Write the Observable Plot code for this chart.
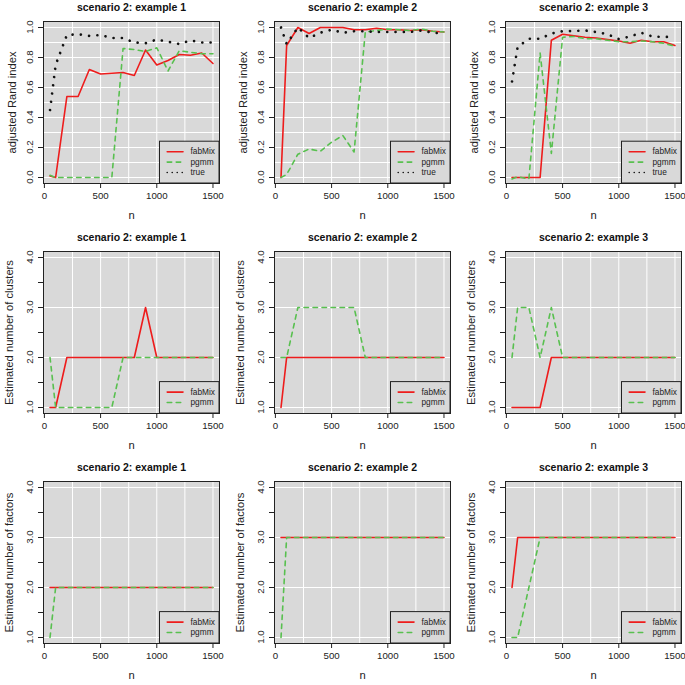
<!DOCTYPE html>
<html><head><meta charset="utf-8">
<script src="https://cdn.jsdelivr.net/npm/d3@7"></script>
<script src="https://cdn.jsdelivr.net/npm/@observablehq/plot@0.6"></script>
<style>
body{margin:0;background:#fff;overflow:hidden;font-family:"Liberation Sans",Arial,Helvetica,sans-serif}
#wrap{position:relative;width:685px;height:685px;overflow:hidden;background:#fff}
.panel{position:absolute;width:231px;height:230px}
.panel svg{max-width:none !important}
</style></head><body><div id="wrap"></div>
<script>
// ---- data ----
const n = [50,100,200,300,400,500,600,700,800,900,1000,1100,1200,1300,1400,1500];

const titles = ["scenario 2: example 1","scenario 2: example 2","scenario 2: example 3"];
const yLabels = ["adjusted Rand index","Estimated number of clusters","Estimated number of factors"];

// adjusted Rand index
const ari1_fabMix = [0.01,0.00,0.54,0.54,0.72,0.69,0.695,0.70,0.68,0.85,0.75,0.78,0.82,0.815,0.83,0.76];
const ari1_pgmm   = [0.015,0.00,0.00,0.00,0.00,0.00,0.00,0.86,0.853,0.84,0.865,0.71,0.845,0.835,0.825,0.825];
const ari1_true   = [0.45,0.75,0.95,0.955,0.944,0.95,0.93,0.93,0.90,0.895,0.92,0.905,0.89,0.914,0.90,0.90];

const ari2_fabMix = [0.00,0.88,1.00,0.96,1.00,1.00,1.00,0.985,0.985,0.995,0.985,0.985,0.98,0.985,0.975,0.97];
const ari2_pgmm   = [0.00,0.02,0.155,0.19,0.175,0.235,0.28,0.17,0.97,0.98,0.99,0.985,0.98,0.99,0.975,0.97];
const ari2_true   = [1.00,0.89,1.00,0.93,0.965,0.985,0.965,0.975,0.975,0.97,0.97,0.97,0.97,0.98,0.965,0.96];

const ari3_fabMix = [0.00,0.00,0.00,0.00,0.915,0.955,0.945,0.935,0.93,0.92,0.91,0.895,0.915,0.905,0.905,0.88];
const ari3_pgmm   = [-0.01,0.005,-0.01,0.83,0.16,0.935,0.94,0.925,0.925,0.915,0.905,0.905,0.91,0.905,0.895,0.875];
const ari3_true   = [0.64,0.87,0.925,0.925,0.96,0.975,0.977,0.98,0.97,0.955,0.923,0.94,0.965,0.94,0.937,0.937];

// estimated number of clusters
const clu1_fabMix = [1,1,2,2,2,2,2,2,2,3,2,2,2,2,2,2];
const clu1_pgmm   = [2,1,1,1,1,1,1,2,2,2,2,2,2,2,2,2];
const clu2_fabMix = [1,2,2,2,2,2,2,2,2,2,2,2,2,2,2,2];
const clu2_pgmm   = [2,2,3,3,3,3,3,3,2,2,2,2,2,2,2,2];
const clu3_fabMix = [1,1,1,1,2,2,2,2,2,2,2,2,2,2,2,2];
const clu3_pgmm   = [2,3,3,2,3,2,2,2,2,2,2,2,2,2,2,2];

// estimated number of factors
const fac1_fabMix = [2,2,2,2,2,2,2,2,2,2,2,2,2,2,2,2];
const fac1_pgmm   = [1,2,2,2,2,2,2,2,2,2,2,2,2,2,2,2];
const fac2_fabMix = [3,3,3,3,3,3,3,3,3,3,3,3,3,3,3,3];
const fac2_pgmm   = [1,3,3,3,3,3,3,3,3,3,3,3,3,3,3,3];
const fac3_fabMix = [2,3,3,3,3,3,3,3,3,3,3,3,3,3,3,3];
const fac3_pgmm   = [1,1,2,3,3,3,3,3,3,3,3,3,3,3,3,3];

// axis settings
const xTicks = [0,500,1000,1500];
const xGrid = [250,500,750,1000,1250,1500];
const ariLim = [0,1];
const ariTicks = [0,0.2,0.4,0.6,0.8,1.0];
const ariTickLabels = ["0.0","0.2","0.4","0.6","0.8","1.0"];
const ariGrid = [0,0.1,0.2,0.3,0.4,0.5,0.6,0.7,0.8,0.9,1.0];
const cntLim = [1,4];
const cntTicks = [1,1.5,2,2.5,3,3.5,4];
const cntLabelAt = [1,2,3,4];
const cntTickLabels = ["1.0","2.0","3.0","4.0"];
const cntGrid = [1,2,3,4];

// ---- styles ----
const seriesStyle = {
  fabMix: {stroke:"#ee1c1c", strokeWidth:1.6, strokeDasharray:null},
  pgmm:   {stroke:"#58c04f", strokeWidth:1.6, strokeDasharray:"4.5,4.5"},
  "true": {stroke:"#111", strokeWidth:2.7, strokeDasharray:"0.01,8.3"}
};
const FONT = '"Liberation Sans",Arial,Helvetica,sans-serif';

function legendMark(keys) {
  return (index, scales, values, dims) => {
    const right = dims.width - dims.marginRight;
    const bottom = dims.height - dims.marginBottom;
    const rowH = 10.4, w = 59.5;
    const h = keys.length * rowH + 10.6;
    const left = right - w, top = bottom - h;
    const g = d3.create("svg:g");
    g.append("rect").attr("x", left).attr("y", top).attr("width", w).attr("height", h)
      .attr("fill", "#d9d9d9").attr("stroke", "#222").attr("stroke-width", 1);
    keys.forEach((k, i) => {
      const st = seriesStyle[k];
      const cy = top + 5.3 + rowH * (i + 0.5);
      const ln = g.append("line").attr("x1", left + 7.7).attr("x2", left + 23.5)
        .attr("y1", cy).attr("y2", cy).attr("stroke", st.stroke)
        .attr("stroke-width", k === "true" ? 1.6 : st.strokeWidth).attr("stroke-linecap", "round");
      if (k === "pgmm") ln.attr("stroke-dasharray", "4.5,4.5");
      if (k === "true") ln.attr("stroke-dasharray", "0.01,5");
      g.append("text").attr("x", left + 31).attr("y", cy).attr("dy", "0.32em")
        .attr("text-anchor", "start")
        .attr("font-size", 8.3).attr("fill", "#222").attr("font-family", FONT).text(k);
    });
    return g.node();
  };
}

// rotated y tick labels placed through the plot's own y scale
function yTickLabels(labelAt, tickLabels) {
  return (index, scales, values, dims) => {
    const g = d3.create("svg:g").attr("font-size", 9.7).attr("fill", "#222")
      .attr("text-anchor", "middle").attr("font-family", FONT);
    const x = dims.marginLeft - 13;
    labelAt.forEach((v, i) => {
      g.append("text")
        .attr("transform", `translate(${x},${scales.y(v)}) rotate(-90)`)
        .attr("dy", "0.32em").text(tickLabels[i]);
    });
    return g.node();
  };
}

function makePanel({title, ylabel, lim, ticks, labelAt, tickLabels, grid, series, ylabDx}) {
  const W = 231, H = 230;
  const xpad = 0.04 * (n[n.length-1] - n[0]);
  const ypad = 0.04 * (lim[1] - lim[0]);
  const marks = [
    Plot.frame({fill: "#d9d9d9", stroke: "none"}),
    Plot.gridX(xGrid, {stroke: "white", strokeOpacity: 1, strokeWidth: 1}),
    Plot.gridY(grid, {stroke: "white", strokeOpacity: 1, strokeWidth: 1})
  ];
  for (const s of series) {
    const st = seriesStyle[s.key];
    const data = s.values.map((v, i) => ({n: n[i], value: v}));
    marks.push(Plot.line(data, {x: "n", y: "value", stroke: st.stroke, strokeWidth: st.strokeWidth,
      strokeDasharray: st.strokeDasharray ?? undefined, strokeLinecap: "round", strokeLinejoin: "round"}));
  }
  marks.push(legendMark(series.map(s => s.key)));
  marks.push(Plot.frame({stroke: "#222", strokeWidth: 1}));
  marks.push(Plot.axisX(xTicks, {tickSize: 5, tickPadding: 3.5, fontSize: 9.7, label: null,
    tickFormat: d => String(d), stroke: "#222", fill: "#222"}));
  marks.push(Plot.axisY(ticks, {tickSize: 5, tickFormat: () => "", label: null, stroke: "#222"}));
  marks.push(yTickLabels(labelAt, tickLabels));
  marks.push(Plot.text([title], {frameAnchor: "top", lineAnchor: "bottom", dy: -11, fontSize: 10.5,
    fontWeight: "bold", fill: "#111"}));
  marks.push(Plot.text(["n"], {frameAnchor: "bottom", lineAnchor: "bottom", dy: 35.3, fontSize: 11.2, fill: "#222"}));
  marks.push(Plot.text([ylabel], {frameAnchor: "left", rotate: -90, textAnchor: "middle", lineAnchor: "middle",
    dx: ylabDx, fontSize: 11.2, fill: "#222"}));
  return Plot.plot({
    width: W, height: H,
    marginLeft: 43, marginRight: 12, marginTop: 21, marginBottom: 47,
    x: {domain: [n[0] - xpad, n[n.length-1] + xpad], label: null},
    y: {domain: [lim[0] - ypad, lim[1] + ypad], label: null},
    style: {fontFamily: FONT, fontSize: "9.7px", color: "#222", background: "transparent", overflow: "visible", maxWidth: "none"},
    marks
  });
}

const panels = [
  [{key:"fabMix", values: ari1_fabMix},{key:"pgmm", values: ari1_pgmm},{key:"true", values: ari1_true}],
  [{key:"fabMix", values: ari2_fabMix},{key:"pgmm", values: ari2_pgmm},{key:"true", values: ari2_true}],
  [{key:"fabMix", values: ari3_fabMix},{key:"pgmm", values: ari3_pgmm},{key:"true", values: ari3_true}],
  [{key:"fabMix", values: clu1_fabMix},{key:"pgmm", values: clu1_pgmm}],
  [{key:"fabMix", values: clu2_fabMix},{key:"pgmm", values: clu2_pgmm}],
  [{key:"fabMix", values: clu3_fabMix},{key:"pgmm", values: clu3_pgmm}],
  [{key:"fabMix", values: fac1_fabMix},{key:"pgmm", values: fac1_pgmm}],
  [{key:"fabMix", values: fac2_fabMix},{key:"pgmm", values: fac2_pgmm}],
  [{key:"fabMix", values: fac3_fabMix},{key:"pgmm", values: fac3_pgmm}]
];

const colLeft = [0, 230.6, 461.5];
const rowTop = [0, 230, 460];
const wrap = document.getElementById("wrap");
panels.forEach((series, k) => {
  const row = Math.floor(k / 3), col = k % 3;
  const isAri = row === 0;
  const svg = makePanel({
    title: titles[col],
    ylabel: yLabels[row],
    lim: isAri ? ariLim : cntLim,
    ticks: isAri ? ariTicks : cntTicks,
    labelAt: isAri ? ariTicks : cntLabelAt,
    tickLabels: isAri ? ariTickLabels : cntTickLabels,
    grid: isAri ? ariGrid : cntGrid,
    series,
    ylabDx: isAri ? -31 : -34.5
  });
  const div = document.createElement("div");
  div.className = "panel";
  div.style.left = colLeft[col] + "px";
  div.style.top = rowTop[row] + "px";
  div.appendChild(svg);
  wrap.appendChild(div);
});
</script></body></html>
